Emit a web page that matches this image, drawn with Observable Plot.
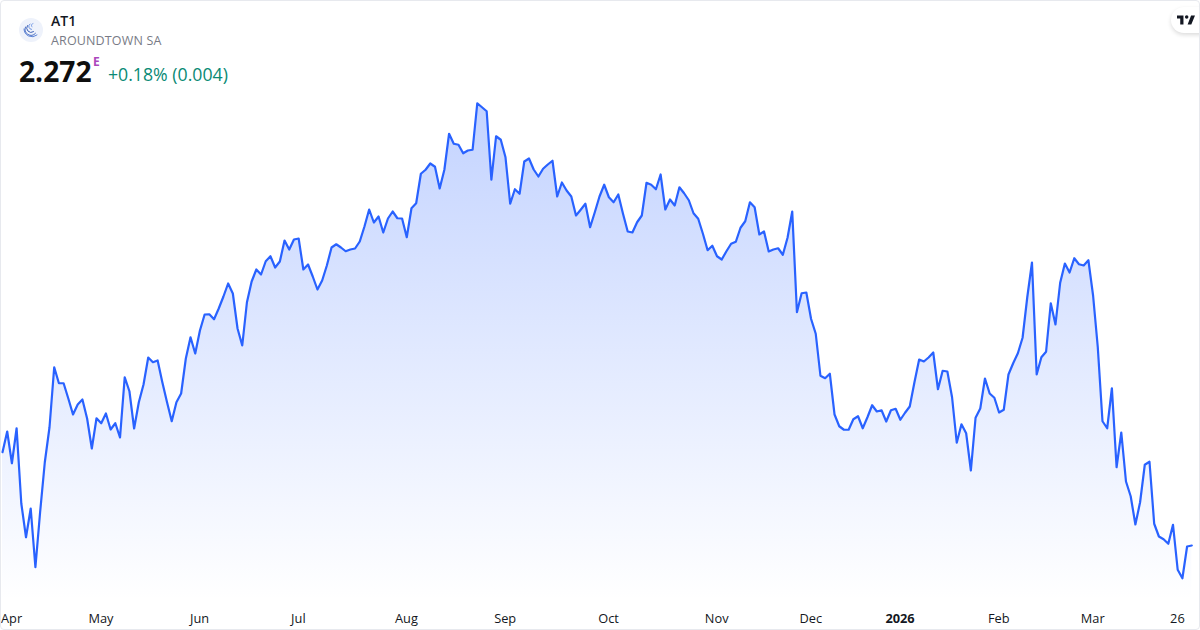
<!DOCTYPE html>
<html>
<head>
<meta charset="utf-8">
<script src="https://cdn.jsdelivr.net/npm/d3@7"></script>
<script src="https://cdn.jsdelivr.net/npm/@observablehq/plot@0.6"></script>
<style>
html,body{margin:0;padding:0;background:#fff;overflow:hidden}
#card{position:relative;width:1200px;height:630px;box-sizing:border-box;font-family:"Open Sans",sans-serif;overflow:hidden}
#frame{position:absolute;left:0;top:0;width:1200px;height:630px;box-sizing:border-box;border:1px solid #e7e9ee;border-radius:4px;pointer-events:none}
#chart{position:absolute;left:0;top:0}
#chart svg{display:block}
.t{position:absolute;white-space:nowrap;line-height:1}
#sym{left:51px;top:14px;font-size:14px;font-weight:600;color:#131722}
#nm{left:51px;top:35px;font-size:12.5px;color:#787b86;letter-spacing:.15px}
#px{left:19px;top:57px;font-size:28.2px;font-weight:700;color:#0f0f0f}
#ex{left:93px;top:56px;font-size:12px;font-weight:700;color:#ab47bc}
#chg{left:108px;top:66px;font-size:17.7px;color:#0a8a75}
#logo{position:absolute;left:19px;top:18px}
#tv{position:absolute;left:1171px;top:7px;width:44px;height:26px;border-radius:13px;background:#fff;box-shadow:0 2px 4px rgba(0,0,0,.14)}
#tv svg{position:absolute;left:6px;top:8px}
</style>
</head>
<body>
<div id="card">
  <div id="chart"></div>
  <svg id="logo" width="24" height="24" viewBox="0 0 24 24">
    <circle cx="12" cy="12" r="12" fill="#eef2fb"/>
    <g fill="none" stroke-linecap="round" stroke-width="1">
      <path d="M5 11a8 8 0 0 0 13 6" stroke="#5f86d8"/>
      <path d="M6.5 9a6 6 0 0 0 10 6.3" stroke="#4a6fc4"/>
      <path d="M8.5 7.5a4.4 4.4 0 0 0 6 6.2" stroke="#3f63b8"/>
      <path d="M11 6a3 3 0 0 0 1.5 5.4" stroke="#6d93e0"/>
      <path d="M14 5.5a2 2 0 0 0 -1 3.4" stroke="#89a9ea"/>
    </g>
  </svg>
  <div class="t" id="sym">AT1</div>
  <div class="t" id="nm">AROUNDTOWN SA</div>
  <div class="t" id="px">2.272</div>
  <div class="t" id="ex">E</div>
  <div class="t" id="chg">+0.18% (0.004)</div>
  <div id="tv"><svg width="18" height="10" viewBox="0 2 39 20"><path fill="#131722" d="M14 2H0v7h7v13h7V2zm17 20h-8l7.5-20H39l-8 20zM21 9.5a3.8 3.8 0 1 0 0-7.6 3.8 3.8 0 0 0 0 7.6z"/></svg></div>
  <div id="frame"></div>
</div>
<script>
const closes = [
2.645,2.728,2.601,2.741,2.440,2.305,2.420,2.185,2.405,2.605,2.745,2.985,2.921,2.921,2.860,2.796,2.836,2.856,2.780,2.660,
2.781,2.761,2.800,2.736,2.761,2.704,2.945,2.889,2.740,2.845,2.916,3.024,3.005,3.012,2.925,2.845,2.769,2.845,2.880,3.020,
3.105,3.040,3.132,3.196,3.197,3.177,3.220,3.268,3.320,3.280,3.140,3.072,3.245,3.328,3.376,3.356,3.409,3.429,3.384,3.408,
3.492,3.456,3.496,3.500,3.376,3.396,3.348,3.296,3.332,3.392,3.464,3.477,3.464,3.449,3.456,3.460,3.488,3.548,3.616,3.564,
3.588,3.524,3.580,3.608,3.581,3.580,3.505,3.621,3.641,3.759,3.775,3.800,3.787,3.700,3.775,3.919,3.879,3.875,3.841,3.852,
3.855,4.041,4.025,4.009,3.735,3.909,3.895,3.825,3.639,3.697,3.679,3.808,3.820,3.776,3.748,3.779,3.796,3.811,3.668,3.724,
3.692,3.668,3.592,3.615,3.639,3.545,3.605,3.668,3.715,3.665,3.645,3.676,3.599,3.528,3.524,3.565,3.592,3.723,3.715,3.697,
3.756,3.616,3.656,3.632,3.705,3.681,3.653,3.601,3.579,3.519,3.453,3.471,3.429,3.416,3.449,3.479,3.487,3.543,3.569,3.645,
3.625,3.516,3.528,3.448,3.456,3.461,3.435,3.503,3.608,3.205,3.281,3.284,3.179,3.119,2.951,2.941,2.959,2.796,2.749,2.735,
2.735,2.777,2.789,2.741,2.785,2.833,2.808,2.813,2.768,2.813,2.819,2.775,2.803,2.828,2.925,3.016,3.008,3.024,3.044,2.897,
2.971,2.968,2.865,2.683,2.757,2.721,2.572,2.783,2.820,2.940,2.880,2.863,2.804,2.815,2.956,3.001,3.041,3.103,3.265,3.404,
2.956,3.025,3.047,3.241,3.156,3.323,3.400,3.364,3.421,3.397,3.392,3.413,3.272,3.065,2.769,2.741,2.901,2.585,2.724,2.528,
2.469,2.356,2.445,2.595,2.607,2.359,2.308,2.297,2.279,2.355,2.175,2.141,2.268,2.272
];
const tickSessions = [2, 21, 42, 63, 86, 107, 129, 152, 172, 212, 232, 250];
const tickLabels = ["Apr","May","Jun","Jul","Aug","Sep","Oct","Nov","Dec","Feb","Mar","26"];
const yearSessions = [191];
const yearLabels = ["2026"];
const areaFloor = 2.052;
const priceDomain = [2.028, 4.452];

const rows = closes.map((close, session) => ({session, close}));

const gradient = () => {
  const defs = d3.create("svg:defs");
  const g = defs.append("linearGradient").attr("id","fade").attr("x1",0).attr("x2",0).attr("y1",0).attr("y2",1);
  g.append("stop").attr("offset","0%").attr("stop-color","#2962ff").attr("stop-opacity",0.28);
  g.append("stop").attr("offset","100%").attr("stop-color","#2962ff").attr("stop-opacity",0);
  return defs.node();
};

const chart = Plot.plot({
  width: 1200, height: 630,
  marginTop: 0, marginRight: 0, marginBottom: 24, marginLeft: 0,
  style: {fontFamily: '"Open Sans",sans-serif', background: "transparent", overflow: "visible"},
  x: {type: "linear", domain: [0, closes.length - 1], range: [2, 1191.3]},
  y: {type: "linear", domain: priceDomain, axis: null},
  marks: [
    gradient,
    Plot.areaY(rows, {x: "session", y1: areaFloor, y2: "close", fill: "url(#fade)"}),
    Plot.line(rows, {x: "session", y: "close", stroke: "#2962ff", strokeWidth: 2.2, strokeLinejoin: "round"}),
    Plot.axisX({anchor: "bottom", ticks: tickSessions, tickSize: 0, tickPadding: 7, fontSize: 12.8, fill: "#131722", stroke: "none", label: null, dx: -0.3,
      tickFormat: d => tickLabels[tickSessions.indexOf(d)]}),
    Plot.axisX({anchor: "bottom", ticks: yearSessions, tickSize: 0, tickPadding: 7, fontSize: 12.8, fontWeight: 700, fill: "#131722", stroke: "none", label: null, dx: -0.3,
      tickFormat: d => yearLabels[yearSessions.indexOf(d)]})
  ]
});
document.getElementById("chart").appendChild(chart);
</script>
</body>
</html>
